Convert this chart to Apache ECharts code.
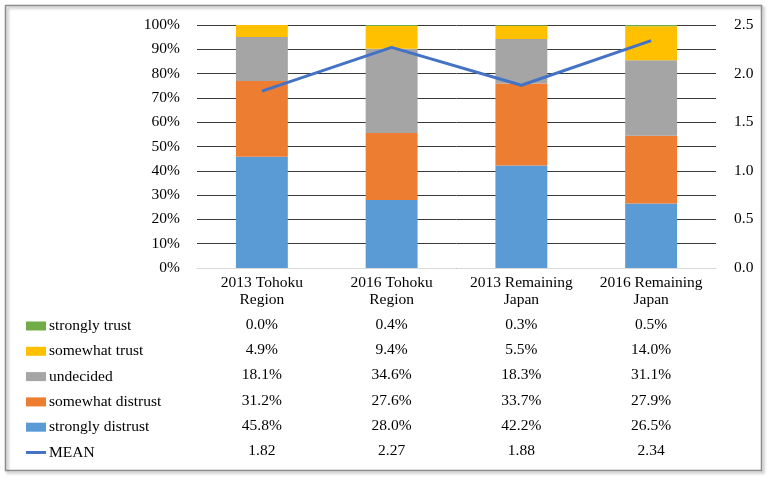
<!DOCTYPE html>
<html><head><meta charset="utf-8">
<script src="https://cdn.jsdelivr.net/npm/echarts@6/dist/echarts.min.js"></script>
<style>html,body{margin:0;padding:0;background:#fff}#c{width:768px;height:478px}</style>
</head><body><div id="c"></div>
<script>
const categories = ['2013 Tohoku\nRegion', '2016 Tohoku\nRegion', '2013 Remaining\nJapan', '2016 Remaining\nJapan'];
const stronglyTrust = [0.0, 0.4, 0.3, 0.5];
const somewhatTrust = [4.9, 9.4, 5.5, 14.0];
const undecided = [18.1, 34.6, 18.3, 31.1];
const somewhatDistrust = [31.2, 27.6, 33.7, 27.9];
const stronglyDistrust = [45.8, 28.0, 42.2, 26.5];
const meanValues = [1.82, 2.27, 1.88, 2.34];
const leftTicks = [0, 10, 20, 30, 40, 50, 60, 70, 80, 90, 100];
const rightTicks = [0, 0.5, 1.0, 1.5, 2.0, 2.5];

const FONT = 'Liberation Serif';
const FS = 15.5;
const chart = echarts.init(document.getElementById('c'));
const barSeries = [
  ['strongly distrust', stronglyDistrust, '#5B9BD5'],
  ['somewhat distrust', somewhatDistrust, '#ED7D31'],
  ['undecided', undecided, '#A5A5A5'],
  ['somewhat trust', somewhatTrust, '#FFC000'],
  ['strongly trust', stronglyTrust, '#70AD47']
].map(([name, data, color]) => ({
  name, type: 'bar', stack: 'total', data, barWidth: '40%',
  itemStyle: { color }, z: 2
}));

const tableRows = [
  ['strongly trust', stronglyTrust, v => v.toFixed(1) + '%'],
  ['somewhat trust', somewhatTrust, v => v.toFixed(1) + '%'],
  ['undecided', undecided, v => v.toFixed(1) + '%'],
  ['somewhat distrust', somewhatDistrust, v => v.toFixed(1) + '%'],
  ['strongly distrust', stronglyDistrust, v => v.toFixed(1) + '%'],
  ['MEAN', meanValues, v => v.toFixed(2)]
];
const rowTop = 325, rowStep = 25.2;

const option = {
  animation: false,
  textStyle: { fontFamily: FONT },
  grid: { left: 197, right: 52, top: 25, bottom: 210 },
  legend: {
    orient: 'vertical', left: 26, top: 318, padding: 0,
    itemWidth: 20, itemHeight: 9, itemGap: 9.3,
    textStyle: { fontFamily: FONT, fontSize: FS, color: '#000', lineHeight: 15, padding: [0, 0, 0, -2] },
    data: [
      { name: 'strongly trust', icon: 'rect' },
      { name: 'somewhat trust', icon: 'rect' },
      { name: 'undecided', icon: 'rect' },
      { name: 'somewhat distrust', icon: 'rect' },
      { name: 'strongly distrust', icon: 'rect' },
      { name: 'MEAN', icon: 'path://M0,3.5L20,3.5L20,6.5L0,6.5Z' }
    ],
    selectedMode: false
  },
  xAxis: {
    type: 'category', data: categories,
    axisLine: { lineStyle: { color: '#d9d9d9' } },
    axisTick: { show: false },
    axisLabel: { fontFamily: FONT, fontSize: FS, color: '#000', lineHeight: 17, margin: 6, interval: 0 }
  },
  yAxis: [
    {
      type: 'value', min: 0, max: 100, interval: 10,
      axisLabel: { formatter: '{value}%', fontFamily: FONT, fontSize: FS, color: '#000', margin: 17 },
      splitLine: { lineStyle: { color: '#3a3a3a', width: 1 } },
      axisLine: { show: false }, axisTick: { show: false }
    },
    {
      type: 'value', min: 0, max: 2.5, interval: 0.5,
      axisLabel: { formatter: v => v.toFixed(1), fontFamily: FONT, fontSize: FS, color: '#000', margin: 18 },
      splitLine: { show: false }, axisLine: { show: false }, axisTick: { show: false }
    }
  ],
  series: barSeries.concat([{
    name: 'MEAN', type: 'line', yAxisIndex: 1, data: meanValues,
    symbol: 'none', lineStyle: { color: '#4472C4', width: 3 }, itemStyle: { color: '#4472C4' }, z: 5
  }])
};
chart.setOption(option);

const graphics = [{
  type: 'rect', shape: { x: 5.5, y: 5.5, width: 756, height: 465 },
  style: { fill: 'none', stroke: '#8c8c8c', lineWidth: 1.5, shadowBlur: 3, shadowOffsetX: 2, shadowOffsetY: 2, shadowColor: 'rgba(0,0,0,0.35)' },
  z: -1
}];
tableRows.forEach((row, r) => {
  row[1].forEach((v, i) => {
    const x = chart.convertToPixel({ xAxisIndex: 0 }, i);
    graphics.push({
      type: 'text', x: x, y: rowTop + r * rowStep,
      style: { text: row[2](v), fontFamily: FONT, fontSize: FS, fill: '#000', textAlign: 'center', textVerticalAlign: 'middle' }
    });
  });
});
chart.setOption({ graphic: graphics });
</script></body></html>
